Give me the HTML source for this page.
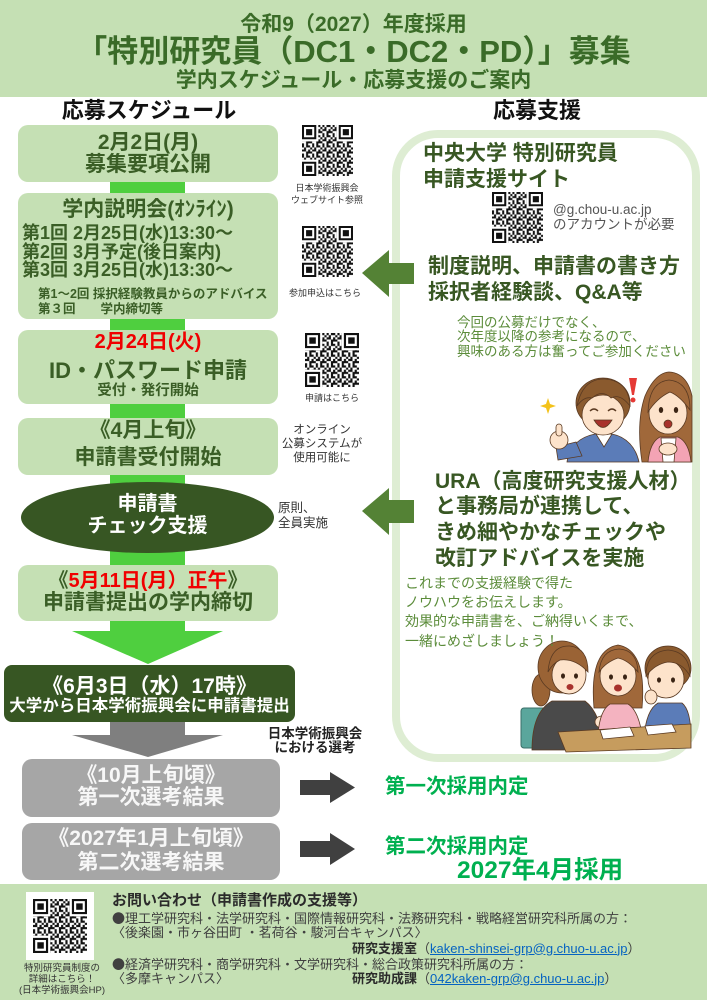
<!DOCTYPE html>
<html><head><meta charset="utf-8">
<style>
*{margin:0;padding:0;box-sizing:border-box}
html,body{width:707px;height:1000px;overflow:hidden;background:#fff}
body{position:relative;font-family:"Liberation Sans","Noto Sans CJK JP",sans-serif}
.a{position:absolute}
.t{position:absolute;white-space:nowrap;line-height:1}
.c{text-align:center}
.b{font-weight:700}
.box{position:absolute;background:#c5e0b4;border-radius:10px}
.g{color:#3a5e26}
.dg{color:#385723}
.lg{color:#5b8c3a}
.cjk{font-family:"Noto Sans CJK JP",sans-serif}
a{color:#0563c1;text-decoration:underline}
</style></head><body>

<div class="a" style="left:0;top:0;width:707px;height:97px;background:#c5e0b4"></div>
<div class="t c b" style="left:0;width:707px;top:13.5px;font-size:21px;color:#3a6b28">令和9（2027）年度採用</div>
<div class="t c b" style="left:0;width:707px;top:35.5px;font-size:31px;color:#3a6b28">「特別研究員（DC1・DC2・PD）」募集</div>
<div class="t c b" style="left:0;width:707px;top:69.5px;font-size:21px;color:#3a6b28">学内スケジュール・応募支援のご案内</div>

<div class="t c b" style="left:0;width:298px;top:100px;font-size:22px;color:#111">応募スケジュール</div>
<div class="t c b" style="left:437px;width:200px;top:100px;font-size:22px;color:#111">応募支援</div>

<div class="a" style="left:110px;top:160px;width:75px;height:472px;background:#4fcf3f"></div>

<div class="box" style="left:18px;top:125px;width:260px;height:57px"></div>
<div class="box" style="left:18px;top:193px;width:260px;height:126px"></div>
<div class="box" style="left:18px;top:330px;width:260px;height:74px"></div>
<div class="box" style="left:18px;top:418px;width:260px;height:57px"></div>
<div class="a" style="left:21px;top:482px;width:253px;height:71px;border-radius:50%;background:#375623"></div>
<div class="box" style="left:18px;top:565px;width:260px;height:56px"></div>
<div class="a" style="left:4px;top:665px;width:291px;height:57px;border-radius:8px;background:#375623"></div>
<div class="box" style="left:22px;top:759px;width:258px;height:58px;background:#a6a6a6"></div>
<div class="box" style="left:22px;top:823px;width:258px;height:57px;background:#a6a6a6"></div>

<div class="a" style="left:392px;top:130px;width:308px;height:632px;border:8px solid #deedd3;border-radius:46px"></div>

<div class="a" style="left:0;top:884px;width:707px;height:116px;background:#c5e0b4"></div>

<svg class="a" style="left:0;top:0" width="707" height="1000" viewBox="0 0 707 1000">
<defs>
<pattern id="qp" width="5" height="5" patternUnits="userSpaceOnUse"><path d="M0 0h1v1H0zM2 0h2v1H2zM1 1h1v1H1zM4 1h1v1H4zM0 2h2v1H0zM3 2h1v1H3zM2 3h3v1H2zM0 4h1v1H0zM2 4h1v1H2z" fill="#111"/></pattern>
</defs>
<polygon points="72,631 223,631 148,664" fill="#4fcf3f"/>
<rect x="110" y="722" width="75" height="14" fill="#7f7f7f"/>
<polygon points="72,735 223,735 148,757" fill="#7f7f7f"/>
<polygon points="300,780 330,780 330,772 355,787.5 330,803 330,795 300,795" fill="#404040"/>
<polygon points="300,841 330,841 330,833 355,849 330,865 330,857 300,857" fill="#404040"/>
<polygon points="362,273 389,250 389,263 414,263 414,284 389,284 389,297" fill="#548235"/>
<polygon points="362,511 389,488 389,500 414,500 414,523 389,523 389,535" fill="#548235"/>

<rect x="26" y="892" width="68" height="68" fill="#fff"/>

<g transform="translate(302 125) scale(2.04)">
<rect width="25" height="25" fill="#fff"/><rect width="25" height="25" fill="url(#qp)"/>
<path d="M0 0h8v8H0zM17 0h8v8h-8zM0 17h8v8H0z" fill="#fff"/><path d="M0 0h7v7H0zM18 0h7v7h-7zM0 18h7v7H0z" fill="#111"/>
<path d="M1 1h5v5H1zM19 1h5v5h-5zM1 19h5v5H1z" fill="#fff"/><path d="M2 2h3v3H2zM20 2h3v3h-3zM2 20h3v3H2z" fill="#111"/>
</g>
<g transform="translate(302 226) scale(2.04)">
<rect width="25" height="25" fill="#fff"/><rect width="25" height="25" fill="url(#qp)"/>
<path d="M0 0h8v8H0zM17 0h8v8h-8zM0 17h8v8H0z" fill="#fff"/><path d="M0 0h7v7H0zM18 0h7v7h-7zM0 18h7v7H0z" fill="#111"/>
<path d="M1 1h5v5H1zM19 1h5v5h-5zM1 19h5v5H1z" fill="#fff"/><path d="M2 2h3v3H2zM20 2h3v3h-3zM2 20h3v3H2z" fill="#111"/>
</g>
<g transform="translate(305 333) scale(2.16)">
<rect width="25" height="25" fill="#fff"/><rect width="25" height="25" fill="url(#qp)"/>
<path d="M0 0h8v8H0zM17 0h8v8h-8zM0 17h8v8H0z" fill="#fff"/><path d="M0 0h7v7H0zM18 0h7v7h-7zM0 18h7v7H0z" fill="#111"/>
<path d="M1 1h5v5H1zM19 1h5v5h-5zM1 19h5v5H1z" fill="#fff"/><path d="M2 2h3v3H2zM20 2h3v3h-3zM2 20h3v3H2z" fill="#111"/>
</g>
<g transform="translate(492 192) scale(2.04)">
<rect width="25" height="25" fill="#fff"/><rect width="25" height="25" fill="url(#qp)"/>
<path d="M0 0h8v8H0zM17 0h8v8h-8zM0 17h8v8H0z" fill="#fff"/><path d="M0 0h7v7H0zM18 0h7v7h-7zM0 18h7v7H0z" fill="#111"/>
<path d="M1 1h5v5H1zM19 1h5v5h-5zM1 19h5v5H1z" fill="#fff"/><path d="M2 2h3v3H2zM20 2h3v3h-3zM2 20h3v3H2z" fill="#111"/>
</g>
<g transform="translate(33 899) scale(2.16)">
<rect width="25" height="25" fill="#fff"/><rect width="25" height="25" fill="url(#qp)"/>
<path d="M0 0h8v8H0zM17 0h8v8h-8zM0 17h8v8H0z" fill="#fff"/><path d="M0 0h7v7H0zM18 0h7v7h-7zM0 18h7v7H0z" fill="#111"/>
<path d="M1 1h5v5H1zM19 1h5v5h-5zM1 19h5v5H1z" fill="#fff"/><path d="M2 2h3v3H2zM20 2h3v3h-3zM2 20h3v3H2z" fill="#111"/>
</g>

<g stroke="#5a3a22" stroke-width="0.8">
 <path d="M567 462 C569 446 580 437 595 434 L612 434 C627 437 636 448 639 462 Z" fill="#5b7cb8"/>
 <path d="M596 434 L604 447 L612 434 Z" fill="#fff"/>
 <path d="M576 442 L556 447 L558 460 L582 456 Z" fill="#5b7cb8"/>
 <ellipse cx="559" cy="440" rx="9" ry="9" fill="#fde3cb"/>
 <rect x="556" y="424" width="6" height="12" rx="3" fill="#fde3cb"/>
 <ellipse cx="603" cy="403" rx="27" ry="25" fill="#8a5a2e"/>
 <ellipse cx="603" cy="415" rx="21" ry="20" fill="#fde3cb"/>
 <path d="M577 406 Q583 378 605 379 Q629 381 630 406 Q620 393 611 398 Q602 389 592 398 Q584 396 577 406 Z" fill="#8a5a2e"/>
 <path d="M590 411 q4 -4 8 0 M608 411 q4 -4 8 0" fill="none" stroke-width="1.4"/>
 <path d="M594 420 Q603 435 612 420 Z" fill="#a8322c"/>
 <path d="M642 462 Q636 422 645 396 Q655 373 669 372 Q687 373 692 396 L692 462 Z" fill="#a0683a"/>
 <path d="M648 462 Q650 442 660 437 L678 437 Q689 442 691 462 Z" fill="#f3a3b4"/>
 <path d="M661 438 L676 438 L674 462 L663 462 Z" fill="#fff"/>
 <ellipse cx="668" cy="413" rx="19" ry="21" fill="#fde3cb"/>
 <path d="M648 412 Q649 382 669 380 Q690 382 690 410 Q680 396 670 392 Q657 398 648 412 Z" fill="#a0683a"/>
 <ellipse cx="668" cy="449" rx="9" ry="6" fill="#fde3cb"/>
 <ellipse cx="668" cy="424" rx="4" ry="4" fill="#a8322c"/>
</g>
<ellipse cx="661" cy="410" rx="2.2" ry="3" fill="#3a2414"/>
<ellipse cx="676" cy="410" rx="2.2" ry="3" fill="#3a2414"/>
<path d="M548 398 L550 404 L556 406 L550 408 L548 414 L546 408 L540 406 L546 404 Z" fill="#f3c21a"/>
<path d="M629 378 L637 378 L634 395 L632 395 Z" fill="#e53935"/><circle cx="633" cy="400" r="2.5" fill="#e53935"/>

<rect x="521" y="708" width="28" height="40" rx="3" fill="#5aa69c" stroke="#3a6f68"/>
<g stroke="#5a3a22" stroke-width="0.8">
 <ellipse cx="541" cy="690" rx="9" ry="16" fill="#9a6335"/>
 <path d="M532 750 Q532 712 552 701 L585 701 Q600 712 606 750 Z" fill="#4a4a4a"/>
 <ellipse cx="562" cy="667" rx="24" ry="26" fill="#9a6335"/>
 <ellipse cx="569" cy="675" rx="17" ry="19" fill="#fde3cb"/>
 <path d="M548 672 Q550 645 570 646 Q588 648 588 672 Q575 658 560 660 Q552 664 548 672 Z" fill="#9a6335"/>
 <ellipse cx="602" cy="722" rx="7" ry="6" fill="#fde3cb"/>
 <path d="M594 708 Q589 650 618 645 Q647 650 642 708 Z" fill="#a0683a"/>
 <path d="M598 734 Q600 710 610 704 L628 704 Q638 710 642 734 Z" fill="#f4b3c0"/>
 <ellipse cx="618" cy="676" rx="18" ry="20" fill="#fde3cb"/>
 <path d="M599 672 Q601 650 619 649 Q637 650 638 672 Q628 660 618 658 Q606 662 599 672 Z" fill="#a0683a"/>
 <path d="M644 738 Q646 710 658 703 L682 703 Q691 710 691 738 Z" fill="#5b7cb8"/>
 <ellipse cx="668" cy="668" rx="23" ry="22" fill="#8a5a2e"/>
 <ellipse cx="666" cy="679" rx="18" ry="19" fill="#fde3cb"/>
 <path d="M646 676 Q646 652 668 650 Q690 652 690 676 Q682 662 668 662 Q655 664 646 676 Z" fill="#8a5a2e"/>
 <ellipse cx="651" cy="697" rx="6" ry="7" fill="#fde3cb"/>
 <polygon points="558,732 691,724 691,748 566,752" fill="#c69c5e"/>
 <polygon points="600,730 630,727 634,736 603,739" fill="#fff"/>
 <polygon points="645,726 672,724 676,732 648,735" fill="#fff"/>
</g>
<ellipse cx="563" cy="676" rx="2" ry="2.6" fill="#3a2414"/><ellipse cx="576" cy="676" rx="2" ry="2.6" fill="#3a2414"/>
<ellipse cx="611" cy="677" rx="2" ry="2.6" fill="#3a2414"/><ellipse cx="625" cy="677" rx="2" ry="2.6" fill="#3a2414"/>
<ellipse cx="659" cy="680" rx="2" ry="2.6" fill="#3a2414"/><ellipse cx="673" cy="680" rx="2" ry="2.6" fill="#3a2414"/>
<ellipse cx="618" cy="688" rx="4" ry="3.5" fill="#a8322c"/>
<ellipse cx="570" cy="687" rx="3.5" ry="3" fill="#a8322c"/>
</svg>

<div class="t c b g" style="left:18px;width:260px;top:131.5px;font-size:21px">2月2日(月)</div>
<div class="t c b g" style="left:18px;width:260px;top:153.5px;font-size:21px">募集要項公開</div>

<div class="t c b g" style="left:18px;width:260px;top:198.5px;font-size:21px">学内説明会(ｵﾝﾗｲﾝ)</div>
<div class="t b g" style="left:22px;top:224px;font-size:18px">第1回 2月25日(水)13:30～</div>
<div class="t b g" style="left:22px;top:242.5px;font-size:18px">第2回 3月予定(後日案内)</div>
<div class="t b g" style="left:22px;top:261px;font-size:18px">第3回 3月25日(水)13:30～</div>
<div class="t b g" style="left:38px;top:287.75px;font-size:12.5px">第1～2回 採択経験教員からのアドバイス</div>
<div class="t b g" style="left:38px;top:302.75px;font-size:12.5px">第３回　　学内締切等</div>

<div class="t c b" style="left:18px;width:260px;top:332px;font-size:20px;color:#f00000">2月24日(火)</div>
<div class="t c b g" style="left:18px;width:260px;top:360px;font-size:22px">ID・パスワード申請</div>
<div class="t c b g" style="left:18px;width:260px;top:383.75px;font-size:14.5px">受付・発行開始</div>

<div class="t c b g" style="left:18px;width:260px;top:419.5px;font-size:21px">《4月上旬》</div>
<div class="t c b g" style="left:18px;width:260px;top:447px;font-size:21px">申請書受付開始</div>

<div class="t c b" style="left:21px;width:253px;top:494px;font-size:20px;color:#fff">申請書</div>
<div class="t c b" style="left:21px;width:253px;top:516px;font-size:20px;color:#fff">チェック支援</div>

<div class="t c b g" style="left:18px;width:260px;top:571px;font-size:20px">《<span style="color:#f00000">5月11日(月）正午</span>》</div>
<div class="t c b g" style="left:18px;width:260px;top:592px;font-size:21px">申請書提出の学内締切</div>

<div class="t c b" style="left:4px;width:291px;top:675.5px;font-size:21px;color:#fff">《6月3日（水）17時》</div>
<div class="t c b" style="left:4px;width:291px;top:698px;font-size:16.5px;color:#fff">大学から日本学術振興会に申請書提出</div>

<div class="t c b" style="left:22px;width:258px;top:764.5px;font-size:21px;color:#f7f7f7">《10月上旬頃》</div>
<div class="t c b" style="left:22px;width:258px;top:786.5px;font-size:21px;color:#f7f7f7">第一次選考結果</div>
<div class="t c b" style="left:22px;width:258px;top:827.5px;font-size:21px;color:#f7f7f7">《2027年1月上旬頃》</div>
<div class="t c b" style="left:22px;width:258px;top:851.5px;font-size:21px;color:#f7f7f7">第二次選考結果</div>

<div class="t c" style="left:287px;width:80px;top:183.5px;font-size:9px;color:#333">日本学術振興会</div>
<div class="t c" style="left:287px;width:80px;top:195.5px;font-size:9px;color:#333">ウェブサイト参照</div>
<div class="t c" style="left:285px;width:80px;top:288.5px;font-size:9px;color:#333">参加申込はこちら</div>
<div class="t c" style="left:292px;width:80px;top:393.5px;font-size:9px;color:#333">申請はこちら</div>

<div class="t c" style="left:272px;width:100px;top:425.25px;font-size:11.5px;color:#333">オンライン</div>
<div class="t c" style="left:272px;width:100px;top:439.25px;font-size:11.5px;color:#333">公募システムが</div>
<div class="t c" style="left:272px;width:100px;top:453.25px;font-size:11.5px;color:#333">使用可能に</div>
<div class="t" style="left:278px;top:502.25px;font-size:12.5px;color:#333">原則、</div>
<div class="t" style="left:278px;top:517.25px;font-size:12.5px;color:#333">全員実施</div>

<div class="t c b" style="left:255px;width:120px;top:727.25px;font-size:13.5px;color:#222">日本学術振興会</div>
<div class="t c b" style="left:255px;width:120px;top:741.25px;font-size:13.5px;color:#222">における選考</div>

<div class="t b dg" style="left:423px;top:142.5px;font-size:21px">中央大学 特別研究員</div>
<div class="t b dg" style="left:423px;top:168.5px;font-size:21px">申請支援サイト</div>
<div class="t" style="left:553px;top:203px;font-size:13.5px;color:#555">@g.chou-u.ac.jp</div>
<div class="t" style="left:553px;top:218px;font-size:13.5px;color:#555">のアカウントが必要</div>
<div class="t b dg" style="left:428px;top:255.5px;font-size:21px">制度説明、申請書の書き方</div>
<div class="t b dg" style="left:428px;top:282px;font-size:21px">採択者経験談、Q&amp;A等</div>
<div class="t lg" style="left:457px;top:315.5px;font-size:13.5px">今回の公募だけでなく、</div>
<div class="t lg" style="left:457px;top:330px;font-size:13.5px">次年度以降の参考になるので、</div>
<div class="t lg" style="left:457px;top:344.5px;font-size:13.5px">興味のある方は奮ってご参加ください</div>

<div class="t b dg" style="left:435px;top:470.5px;font-size:21px">URA（高度研究支援人材）</div>
<div class="t b dg" style="left:435px;top:495.5px;font-size:21px">と事務局が連携して、</div>
<div class="t b dg" style="left:435px;top:521.5px;font-size:21px">きめ細やかなチェックや</div>
<div class="t b dg" style="left:435px;top:547.5px;font-size:21px">改訂アドバイスを実施</div>
<div class="t lg" style="left:405px;top:576px;font-size:14px">これまでの支援経験で得た</div>
<div class="t lg" style="left:405px;top:595px;font-size:14px">ノウハウをお伝えします。</div>
<div class="t lg" style="left:405px;top:614px;font-size:14px">効果的な申請書を、ご納得いくまで、</div>
<div class="t lg" style="left:405px;top:634px;font-size:14px">一緒にめざしましょう！</div>

<div class="t b" style="left:385px;top:777px;font-size:20.5px;color:#00b050">第一次採用内定</div>
<div class="t b" style="left:385px;top:836.5px;font-size:20.5px;color:#00b050">第二次採用内定</div>
<div class="t b" style="left:457px;top:858.5px;font-size:24.5px;color:#00b050">2027年4月採用</div>

<div class="t c" style="left:10px;width:104px;top:964.25px;font-size:9.5px;color:#333">特別研究員制度の</div>
<div class="t c" style="left:10px;width:104px;top:975.25px;font-size:9.5px;color:#333">詳細はこちら！</div>
<div class="t c" style="left:10px;width:104px;top:986.25px;font-size:9.5px;color:#333">(日本学術振興会HP)</div>

<div class="t b" style="left:112px;top:892.5px;font-size:15px;color:#2b2b2b">お問い合わせ（申請書作成の支援等）</div>
<div class="t" style="left:112px;top:910.5px;font-size:13px;color:#404040"><span class="cjk">●</span>理工学研究科・法学研究科・国際情報研究科・法務研究科・戦略経営研究科所属の方：</div>
<div class="t" style="left:112px;top:925.5px;font-size:13px;color:#404040">〈後楽園・市ヶ谷田町 ・茗荷谷・駿河台キャンパス〉</div>
<div class="t" style="left:352px;top:941.5px;font-size:13px;color:#404040"><b style="color:#2b2b2b">研究支援室</b>（<a>kaken-shinsei-grp@g.chuo-u.ac.jp</a>）</div>
<div class="t" style="left:112px;top:956.5px;font-size:13px;color:#404040"><span class="cjk">●</span>経済学研究科・商学研究科・文学研究科・総合政策研究科所属の方：</div>
<div class="t" style="left:112px;top:971.5px;font-size:13px;color:#404040">〈多摩キャンパス〉</div>
<div class="t" style="left:352px;top:971.5px;font-size:13px;color:#404040"><b style="color:#2b2b2b">研究助成課</b>（<a>042kaken-grp@g.chuo-u.ac.jp</a>）</div>

</body></html>
